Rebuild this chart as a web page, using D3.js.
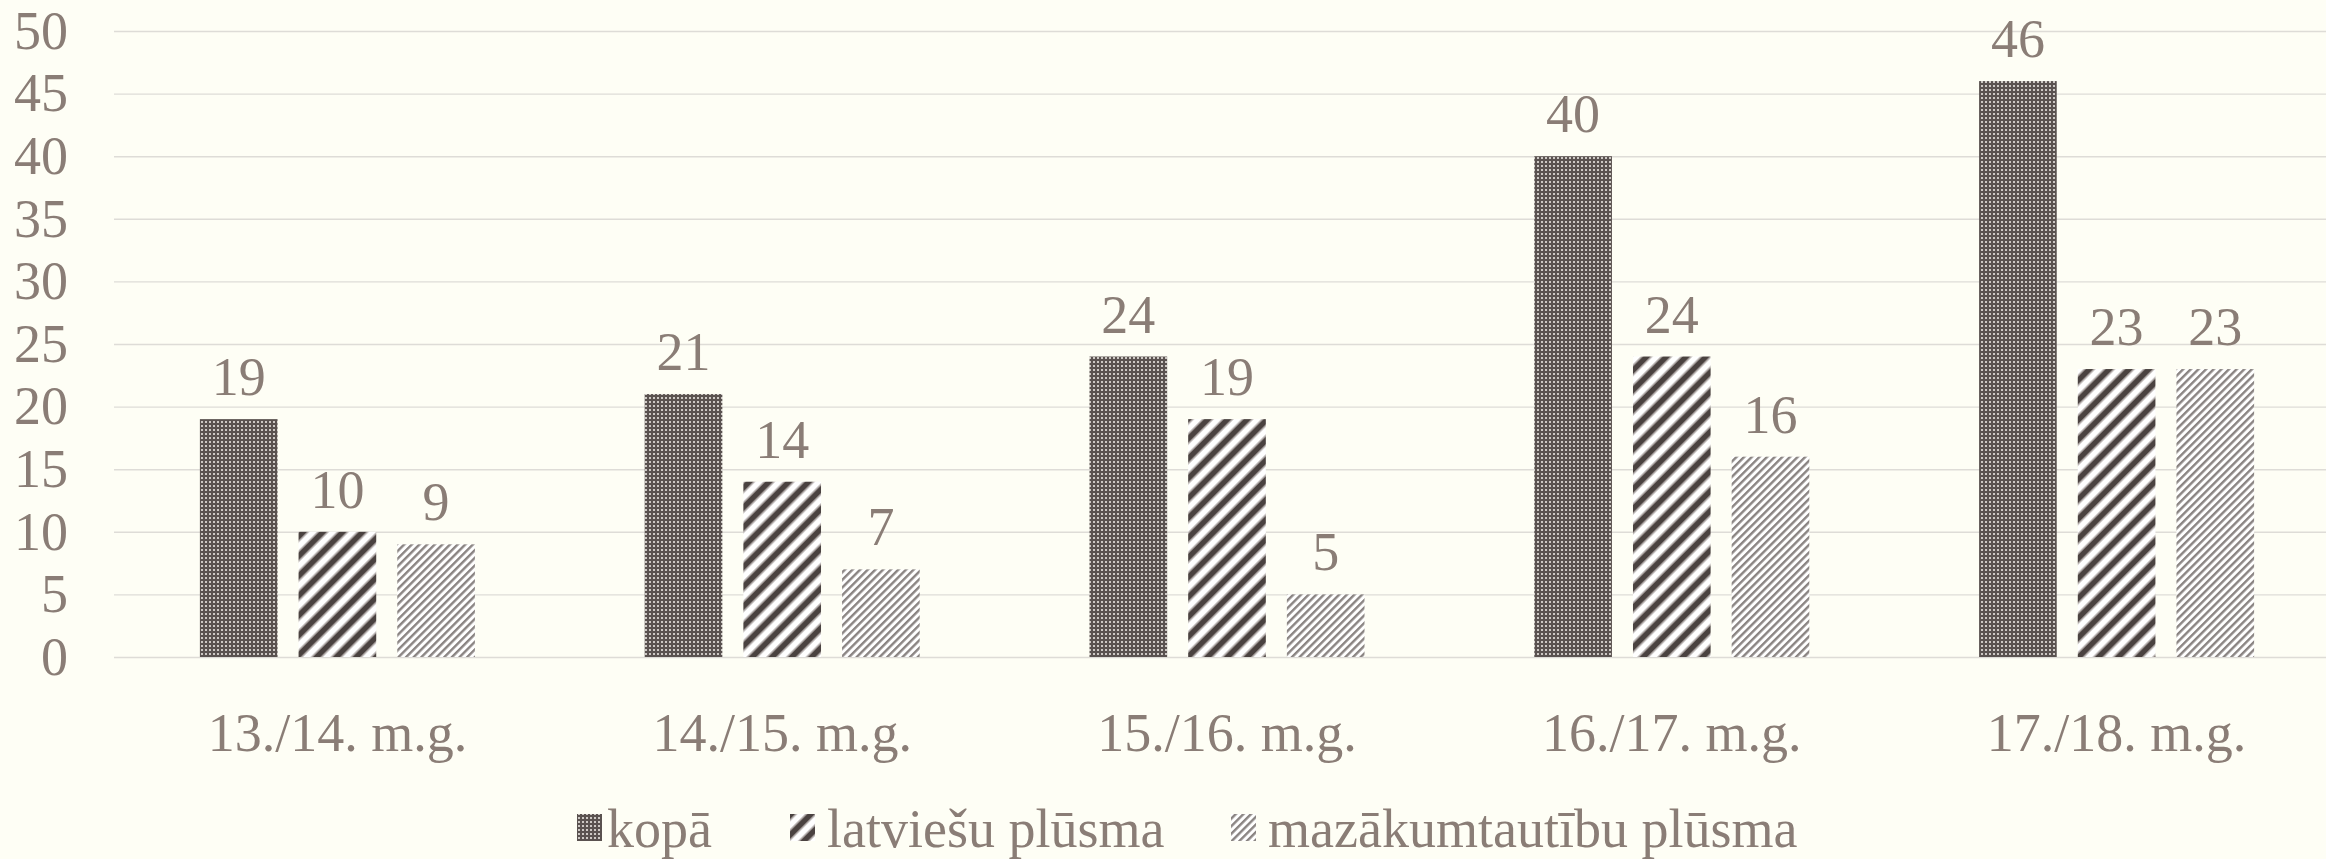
<!DOCTYPE html>
<html>
<head>
<meta charset="utf-8">
<script src="https://cdn.jsdelivr.net/npm/d3@7/dist/d3.min.js"></script>
<style>
  html, body { margin: 0; padding: 0; background: #fefef5; }
  svg { display: block; }
  text { font-family: "Liberation Serif", "Times New Roman", serif; fill: #8a7d76; }
</style>
</head>
<body>
<svg id="chart" width="2326" height="859"></svg>
<script>
// chart data
var categories = ["13./14. m.g.", "14./15. m.g.", "15./16. m.g.", "16./17. m.g.", "17./18. m.g."]
var seriesNames = ["kopā", "latviešu plūsma", "mazākumtautību plūsma"]
var kopa = [19, 21, 24, 40, 46]
var latviesu = [10, 14, 19, 24, 23]
var mazakumtautibu = [9, 7, 5, 16, 23]
var yTicks = [0, 5, 10, 15, 20, 25, 30, 35, 40, 45, 50]

var seriesValues = [kopa, latviesu, mazakumtautibu]
var patternIds = ['pat-kopa', 'pat-latv', 'pat-maz']

var width = 2326, height = 859
var fontSize = 54

var svg = d3.select('#chart')

// patterns for the bars
var defs = svg.append('defs')

// dotted dark fill
var p1 = defs.append('pattern').attr('id', 'pat-kopa')
  .attr('patternUnits', 'userSpaceOnUse').attr('width', 4).attr('height', 4)
p1.append('rect').attr('width', 4).attr('height', 4).attr('fill', '#5a5250')
p1.append('rect').attr('x', 1).attr('y', 1).attr('width', 2).attr('height', 2).attr('fill', '#cdc8c4')

// wide diagonal stripes
var p2 = defs.append('pattern').attr('id', 'pat-latv')
  .attr('patternUnits', 'userSpaceOnUse').attr('width', 14).attr('height', 14)
  .attr('patternTransform', 'rotate(45)')
p2.append('rect').attr('width', 14).attr('height', 14).attr('fill', '#ffffff')
p2.append('rect').attr('x', 0).attr('width', 5).attr('height', 14).attr('fill', '#4a4240')
p2.append('rect').attr('x', 5).attr('width', 1.5).attr('height', 14).attr('fill', '#9a9290')
p2.append('rect').attr('x', 12.5).attr('width', 1.5).attr('height', 14).attr('fill', '#9a9290')

// thin diagonal stripes
var p3 = defs.append('pattern').attr('id', 'pat-maz')
  .attr('patternUnits', 'userSpaceOnUse').attr('width', 5.4).attr('height', 5.4)
  .attr('patternTransform', 'rotate(45)')
p3.append('rect').attr('width', 5.4).attr('height', 5.4).attr('fill', '#ffffff')
p3.append('rect').attr('width', 2.4).attr('height', 5.4).attr('fill', '#8a8482')

// scales
var x0 = d3.scaleBand()
  .domain(categories)
  .range([115, 2339])
  .paddingInner(0.3817)
  .paddingOuter(0.19085)

var x1 = d3.scaleBand()
  .domain(d3.range(seriesNames.length))
  .range([0, x0.bandwidth()])
  .paddingInner(0.2132)

var y = d3.scaleLinear()
  .domain([0, 50])
  .range([657, 31])

// y axis with gridlines
var yAxis = svg.append('g')
  .attr('transform', 'translate(114,0)')
  .call(d3.axisLeft(y).tickValues(yTicks).tickSize(-(2339 - 114)).tickPadding(46))
yAxis.select('.domain').remove()
yAxis.selectAll('.tick line').attr('stroke', '#dedcd7').attr('stroke-width', 1.4)
yAxis.selectAll('.tick text')
  .style('font-size', fontSize + 'px')
  .style('font-family', '"Liberation Serif", serif')
  .attr('fill', '#8a7d76')

// x axis labels
var xAxis = svg.append('g')
  .attr('transform', 'translate(0,657)')
  .call(d3.axisBottom(x0).tickSize(0).tickPadding(56))
xAxis.select('.domain').remove()
xAxis.selectAll('.tick text')
  .style('font-size', fontSize + 'px')
  .style('font-family', '"Liberation Serif", serif')
  .attr('fill', '#8a7d76')

// bars
var rows = []
categories.forEach(function(c, ci) {
  seriesValues.forEach(function(vals, si) {
    rows.push({cat: c, s: si, v: vals[ci]})
  })
})

var bars = svg.append('g')
bars.selectAll('rect')
  .data(rows)
  .enter()
  .append('rect')
  .attr('x', d => x0(d.cat) + x1(d.s))
  .attr('y', d => y(d.v))
  .attr('width', x1.bandwidth())
  .attr('height', d => y(0) - y(d.v))
  .attr('fill', d => 'url(#' + patternIds[d.s] + ')')

// value labels
bars.selectAll('text')
  .data(rows)
  .enter()
  .append('text')
  .attr('x', d => x0(d.cat) + x1(d.s) + x1.bandwidth() / 2)
  .attr('y', d => y(d.v) - 24)
  .attr('text-anchor', 'middle')
  .style('font-size', fontSize + 'px')
  .text(d => d.v)

// legend
var legendX = [577, 790, 1231]
var legend = svg.append('g')
seriesNames.forEach(function(name, i) {
  var g = legend.append('g').attr('transform', 'translate(' + legendX[i] + ',0)')
  g.append('rect')
    .attr('x', 0).attr('y', 814)
    .attr('width', 25).attr('height', 27)
    .attr('fill', 'url(#' + patternIds[i] + ')')
  g.append('text')
    .attr('x', i == 0 ? 30 : 37)
    .attr('y', 847)
    .style('font-size', fontSize + 'px')
    .text(name)
})
</script>
</body>
</html>
